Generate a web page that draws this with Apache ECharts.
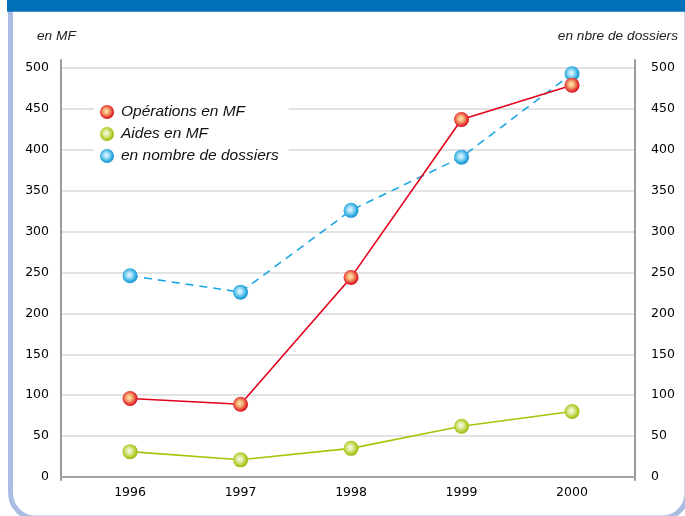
<!DOCTYPE html>
<html>
<head>
<meta charset="utf-8">
<script src="https://cdn.jsdelivr.net/npm/echarts@6/dist/echarts.min.js"></script>
<style>
	html, body { margin: 0; padding: 0; background: #fff; }
	#chart { width: 685px; height: 516px; }
</style>
</head>
<body>
<div id="chart"></div>
<script>
	// données
	const years = [1996, 1997, 1998, 1999, 2000]
	const operations = [96, 89, 244, 437, 479]   // Opérations en MF
	const aides = [31, 21, 35, 62, 80]            // Aides en MF
	const dossiers = [246, 226, 326, 391, 493]    // en nombre de dossiers
	const yMin = 0
	const yMax = 500
	const yStep = 50

	const numFont = 'DejaVu Sans'
	const txtFont = 'Liberation Sans'

	// boule brillante pour les marqueurs
	const ball = (c0, c1, c2, c3) => new echarts.graphic.RadialGradient(0.45, 0.45, 0.55, [
		{ offset: 0, color: c0 },
		{ offset: 0.35, color: c1 },
		{ offset: 0.75, color: c2 },
		{ offset: 1, color: c3 }
	])

	const pairs = (vals) => years.map((y, i) => [y, vals[i]])

	const myChart = echarts.init(document.getElementById('chart'))

	const option = {
		animation: false,
		backgroundColor: '#fff',
		title: [{
			text: 'en MF',
			left: 37,
			top: 29,
			padding: 0,
			textStyle: { fontFamily: txtFont, fontStyle: 'italic', fontWeight: 'normal', fontSize: 13.7, color: '#222' }
		}, {
			text: 'en nbre de dossiers',
			right: 7,
			top: 29,
			padding: 0,
			textStyle: { fontFamily: txtFont, fontStyle: 'italic', fontWeight: 'normal', fontSize: 13.7, color: '#222' }
		}],
		legend: {
			orient: 'vertical',
			left: 94,
			top: 101,
			padding: [3, 10, 3, 6],
			backgroundColor: '#fff',
			itemWidth: 14,
			itemHeight: 14,
			itemGap: 6,
			icon: 'circle',
			data: ['Opérations en MF', 'Aides en MF', 'en nombre de dossiers'],
			textStyle: { fontFamily: txtFont, fontStyle: 'italic', fontSize: 15.5, color: '#111', padding: [0, 0, 0, 2] }
		},
		grid: [
			{ left: 61, right: 50, top: 68, bottom: 39, outerBoundsMode: 'none' },
			// seulement pour les traits verticaux des axes, un peu plus longs
			{ left: 61, right: 50, top: 60, bottom: 36, outerBoundsMode: 'none' }
		],
		xAxis: [{
			type: 'value',
			gridIndex: 0,
			min: 1995.375,
			max: 2000.57,
			interval: 0.125,
			axisLine: { show: true, onZero: false, lineStyle: { color: '#a3a3a3', width: 2 } },
			axisTick: { show: false },
			splitLine: { show: false },
			axisLabel: {
				margin: 9,
				fontFamily: numFont,
				fontSize: 12.5,
				color: '#000',
				showMinLabel: true,
				showMaxLabel: true,
				formatter: v => Math.abs(v - Math.round(v)) < 1e-6 ? String(Math.round(v)) : ''
			}
		}, {
			type: 'value',
			gridIndex: 1,
			show: false
		}],
		yAxis: [{
			type: 'value',
			gridIndex: 0,
			position: 'left',
			min: yMin,
			max: yMax,
			interval: yStep,
			axisLine: { show: false },
			axisTick: { show: false },
			splitLine: { show: true, lineStyle: { color: '#d9d9d9', width: 1.5 } },
			axisLabel: { margin: 12, fontFamily: numFont, fontSize: 12.5, color: '#000' }
		}, {
			type: 'value',
			gridIndex: 0,
			position: 'right',
			min: yMin,
			max: yMax,
			interval: yStep,
			axisLine: { show: false },
			axisTick: { show: false },
			splitLine: { show: false },
			axisLabel: { margin: 16, fontFamily: numFont, fontSize: 12.5, color: '#000' }
		}, {
			type: 'value',
			gridIndex: 1,
			position: 'left',
			min: 0,
			max: 1,
			axisLine: { show: true, lineStyle: { color: '#9a9a9a', width: 2 } },
			axisTick: { show: false },
			axisLabel: { show: false },
			splitLine: { show: false }
		}, {
			type: 'value',
			gridIndex: 1,
			position: 'right',
			min: 0,
			max: 1,
			axisLine: { show: true, lineStyle: { color: '#9a9a9a', width: 2 } },
			axisTick: { show: false },
			axisLabel: { show: false },
			splitLine: { show: false }
		}],
		series: [{
			name: 'Aides en MF',
			type: 'line',
			xAxisIndex: 0,
			yAxisIndex: 0,
			data: pairs(aides),
			symbol: 'circle',
			symbolSize: 15,
			lineStyle: { color: '#a8c40a', width: 1.6 },
			itemStyle: { color: ball('#fbfce9', '#e0eaa4', '#b6cd30', '#9db414') },
			z: 3
		}, {
			name: 'en nombre de dossiers',
			type: 'line',
			xAxisIndex: 0,
			yAxisIndex: 1,
			data: pairs(dossiers),
			symbol: 'circle',
			symbolSize: 15,
			lineStyle: { color: '#1aa6e4', width: 1.6, type: [8, 6] },
			itemStyle: { color: ball('#e8f8fe', '#a4def6', '#36afe3', '#1c93cd') },
			z: 4
		}, {
			name: 'Opérations en MF',
			type: 'line',
			xAxisIndex: 0,
			yAxisIndex: 0,
			data: pairs(operations),
			symbol: 'circle',
			symbolSize: 15,
			lineStyle: { color: '#e2001a', width: 1.6 },
			itemStyle: { color: ball('#fce9ad', '#f5b47c', '#e9453a', '#cf111b') },
			z: 5
		}],
		graphic: [{
			// cadre arrondi bleu clair
			type: 'rect',
			silent: true,
			z: -10,
			shape: { x: 10.5, y: -40, width: 676.5, height: 558, r: 25 },
			style: { fill: null, stroke: '#a9bde3', lineWidth: 5 }
		}, {
			// bandeau bleu foncé en haut
			type: 'rect',
			silent: true,
			z: -5,
			shape: { x: 7, y: 0, width: 678, height: 11.7 },
			style: { fill: '#0070b8' }
		}]
	}

	myChart.setOption(option)
</script>
</body>
</html>
